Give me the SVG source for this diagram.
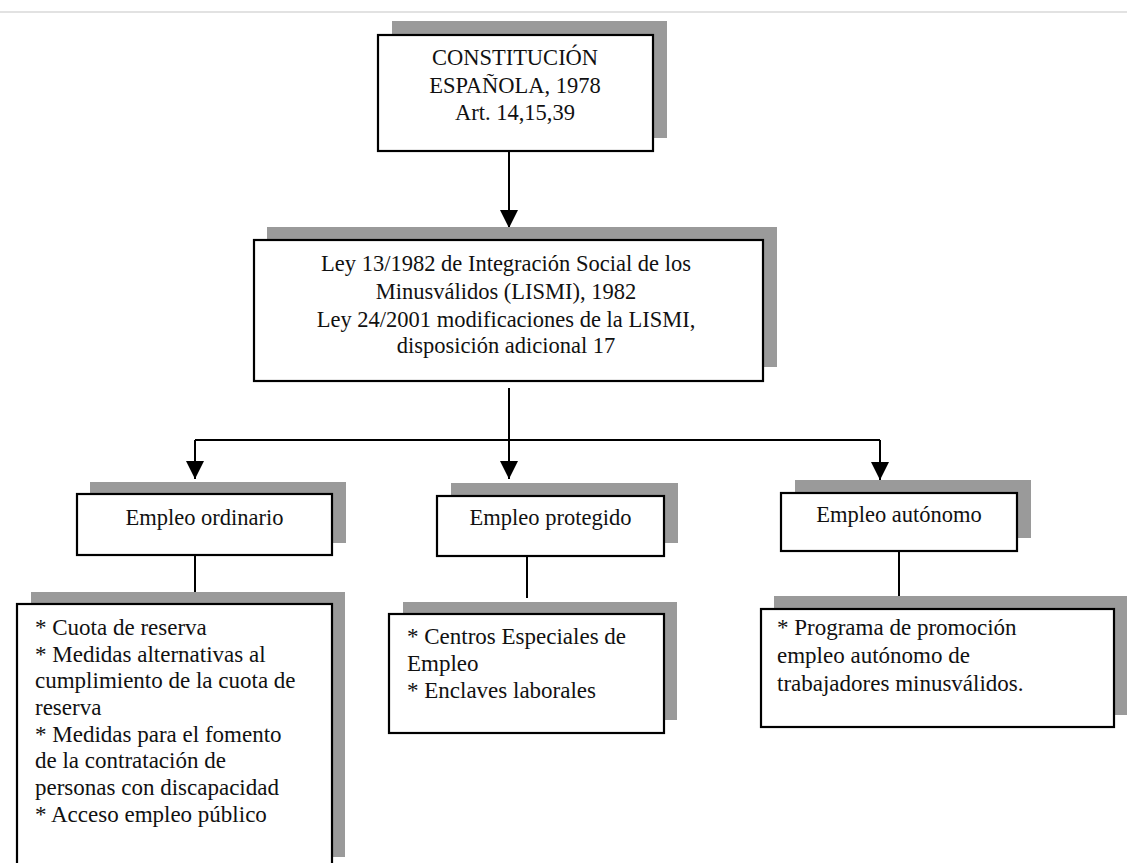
<svg xmlns="http://www.w3.org/2000/svg" width="1127" height="863" viewBox="0 0 1127 863">
<defs>
<marker id="arr" markerUnits="userSpaceOnUse" markerWidth="18" markerHeight="18" refX="18" refY="9" orient="auto">
<path d="M0,0 L18,9 L0,18 z" fill="#000"/>
</marker>
<style>
.sh{fill:#9a9a9a;}
.bx{fill:#fff;stroke:#000;stroke-width:2.2;}
.t{font-family:"Liberation Serif","Times New Roman",serif;font-size:22.5px;fill:#111;}
.c{text-anchor:middle;}
.b{font-family:"Liberation Serif","Times New Roman",serif;font-size:23px;fill:#111;}
.ln{fill:none;stroke:#000;stroke-width:2;}
</style>
</defs>
<rect width="1127" height="863" fill="#fff"/>
<line x1="0" y1="12" x2="1127" y2="12" stroke="#e2e2e2" stroke-width="2"/>

<g id="connectors">
<path class="ln" d="M509,151 L509,228" marker-end="url(#arr)"/>
<path class="ln" d="M509,388 L509,440"/>
<path class="ln" d="M195,440 L880,440"/>
<path class="ln" d="M195,440 L195,479" marker-end="url(#arr)"/>
<path class="ln" d="M509,440 L509,479" marker-end="url(#arr)"/>
<path class="ln" d="M880,440 L880,480" marker-end="url(#arr)"/>
<path class="ln" d="M195,555 L195,593"/>
<path class="ln" d="M527,556 L527,598"/>
<path class="ln" d="M899,551 L899,596"/>
</g>

<g id="constitucion">
<rect class="sh" x="392" y="21" width="275" height="117"/>
<rect class="bx" x="378" y="35" width="275" height="116"/>
<text class="t c" x="515" y="65">CONSTITUCIÓN</text>
<text class="t c" x="515" y="92.5">ESPAÑOLA, 1978</text>
<text class="t c" x="515" y="120">Art. 14,15,39</text>
</g>

<g id="ley">
<rect class="sh" x="267" y="227" width="510" height="140"/>
<rect class="bx" x="254" y="240" width="509" height="141"/>
<text class="t c" x="506" y="271">Ley 13/1982 de Integración Social de los</text>
<text class="t c" x="506" y="299">Minusválidos (LISMI), 1982</text>
<text class="t c" x="506" y="327">Ley 24/2001 modificaciones de la LISMI,</text>
<text class="t c" x="506" y="353">disposición adicional 17</text>
</g>

<g id="ordinario">
<rect class="sh" x="90" y="482" width="256" height="61"/>
<rect class="bx" x="77" y="494" width="255" height="61"/>
<text class="t c" x="204.5" y="525">Empleo ordinario</text>
</g>

<g id="protegido">
<rect class="sh" x="451" y="483" width="227" height="60"/>
<rect class="bx" x="437" y="496" width="227" height="60"/>
<text class="t c" x="550.5" y="525">Empleo protegido</text>
</g>

<g id="autonomo">
<rect class="sh" x="795" y="480" width="236" height="58"/>
<rect class="bx" x="781" y="493" width="236" height="58"/>
<text class="t c" x="899" y="522">Empleo autónomo</text>
</g>

<g id="ordinario-detalle">
<rect class="sh" x="31" y="592" width="314" height="265"/>
<rect class="bx" x="17" y="604" width="315" height="265"/>
<text class="b" x="35" y="635">* Cuota de reserva</text>
<text class="b" x="35" y="662">* Medidas alternativas al</text>
<text class="b" x="35" y="688">cumplimiento de la cuota de</text>
<text class="b" x="35" y="715">reserva</text>
<text class="b" x="35" y="742">* Medidas para el fomento</text>
<text class="b" x="35" y="768">de la contratación de</text>
<text class="b" x="35" y="795">personas con discapacidad</text>
<text class="b" x="35" y="822">* Acceso empleo público</text>
</g>

<g id="protegido-detalle">
<rect class="sh" x="403" y="602" width="274" height="118"/>
<rect class="bx" x="389" y="614" width="275" height="119"/>
<text class="b" x="407" y="644">* Centros Especiales de</text>
<text class="b" x="407" y="671">Empleo</text>
<text class="b" x="407" y="698">* Enclaves laborales</text>
</g>

<g id="autonomo-detalle">
<rect class="sh" x="774" y="596" width="353" height="119"/>
<rect class="bx" x="761" y="609" width="353" height="118"/>
<text class="b" x="777" y="635">* Programa de promoción</text>
<text class="b" x="777" y="663">empleo autónomo de</text>
<text class="b" x="777" y="691">trabajadores minusválidos.</text>
</g>
</svg>
